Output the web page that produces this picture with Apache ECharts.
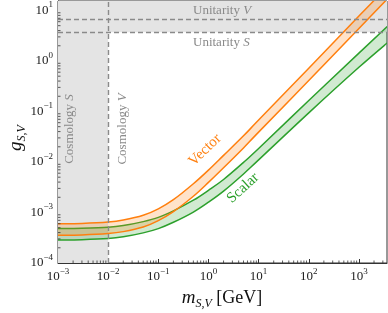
<!DOCTYPE html>
<html><head><meta charset="utf-8">
<script src="https://cdn.jsdelivr.net/npm/echarts@6/dist/echarts.min.js"></script>
<style>html,body{margin:0;padding:0;background:#fff}#c{width:388px;height:313px}</style>
</head><body><div id="c"></div>
<script>
// Mass grid (GeV)
const masses = [1e-3, 3e-3, 1e-2, 2e-2, 5e-2, 1e-1, 2e-1, 5e-1, 1, 2, 5, 10, 100, 1000, 4000];
// Vector band
const vectorUpper = [5.96e-4, 6.08e-4, 6.49e-4, 7.1e-4, 8.8e-4, 1.18e-3, 1.79e-3, 3.7e-3, 6.9e-3, 1.35e-2, 3.3e-2, 6.75e-2, 0.72, 7.75, 32];
const vectorLower = [3.53e-4, 3.6e-4, 3.84e-4, 4.18e-4, 5.15e-4, 6.9e-4, 1.04e-3, 2.1e-3, 3.95e-3, 7.7e-3, 1.9e-2, 3.9e-2, 0.41, 4.4, 18.4];
// Scalar band
const scalarUpper = [4.8e-4, 4.88e-4, 5.1e-4, 5.5e-4, 6.6e-4, 8.0e-4, 1.08e-3, 1.75e-3, 2.75e-3, 4.5e-3, 9.8e-3, 1.85e-2, 0.165, 1.43, 5.2];
const scalarLower = [2.85e-4, 2.9e-4, 3.05e-4, 3.3e-4, 3.95e-4, 4.8e-4, 6.4e-4, 1.02e-3, 1.6e-3, 2.65e-3, 5.8e-3, 1.1e-2, 9.4e-2, 0.75, 2.45];
// Exclusion boundaries
const cosmologyS = 1.3e-3;
const cosmologyV = 1e-2;
const unitarityS = 3.7;
const unitarityV = 6.6;
// Axis ranges
const xRange = [1e-3, 3630];
const yRange = [1e-4, 15.4];

const SERIF = '"Liberation Serif","DejaVu Serif",serif';
const chart = echarts.init(document.getElementById('c'), null, {renderer: 'canvas'});

function pow10Label(v) {
  const e = Math.round(Math.log10(v));
  return '{b|10}{e|' + (e < 0 ? '\u2212' : '') + Math.abs(e) + '}';
}
const labelRich = {
  b: {fontFamily: SERIF, fontSize: 13, color: '#222', lineHeight: 20},
  e: {fontFamily: SERIF, fontSize: 9, color: '#222', lineHeight: 10, verticalAlign: 'top'}
};

// Catmull-Rom spline through pixel points -> SVG path commands
function splineCmds(pts, start) {
  let d = (start ? 'M' : 'L') + pts[0][0] + ' ' + pts[0][1];
  for (let i = 0; i < pts.length - 1; i++) {
    const p0 = pts[i - 1] || pts[i], p1 = pts[i], p2 = pts[i + 1], p3 = pts[i + 2] || pts[i + 1];
    const c1 = [p1[0] + (p2[0] - p0[0]) / 6, p1[1] + (p2[1] - p0[1]) / 6];
    const c2 = [p2[0] - (p3[0] - p1[0]) / 6, p2[1] - (p3[1] - p1[1]) / 6];
    d += ' C' + c1[0] + ' ' + c1[1] + ' ' + c2[0] + ' ' + c2[1] + ' ' + p2[0] + ' ' + p2[1];
  }
  return d;
}

function bandSeries(lower, upper, color, fill, z) {
  return {
    type: 'custom', data: [[masses[0], lower[0]]], z: z, silent: true, clip: true,
    renderItem: function (params, api) {
      const up = masses.map((m, i) => api.coord([m, upper[i]]));
      const lo = masses.map((m, i) => api.coord([m, lower[i]]));
      const fillPath = splineCmds(up, true) + ' ' + splineCmds(lo.slice().reverse(), false) + ' Z';
      return {
        type: 'group',
        children: [
          {type: 'path', shape: {pathData: fillPath}, style: {fill: fill, stroke: null}},
          {type: 'path', shape: {pathData: splineCmds(up, true)}, style: {fill: null, stroke: color, lineWidth: 1.5}},
          {type: 'path', shape: {pathData: splineCmds(lo, true)}, style: {fill: null, stroke: color, lineWidth: 1.5}}
        ]
      };
    }
  };
}

const gray = '#e4e4e4';
const dashColor = '#8a8a8a';
const textGray = '#8a8a8a';

function grayText(a, b) {
  return '{a|' + a + '}{i|' + b + '}';
}
const grayRich = {
  a: {fontFamily: SERIF, fontSize: 13, fill: textGray},
  i: {fontFamily: SERIF, fontSize: 13, fontStyle: 'italic', fill: textGray}
};

const option = {
  animation: false,
  grid: {left: 58, right: 1, top: 1, bottom: 50, show: true, borderColor: '#333', borderWidth: 1, backgroundColor: 'transparent'},
  xAxis: {
    type: 'log', min: xRange[0], max: xRange[1], logBase: 10,
    axisLine: {show: true, lineStyle: {color: '#333', width: 1}},
    axisTick: {show: true, inside: true, length: 4, lineStyle: {color: '#333'}},
    axisLabel: {margin: 4, formatter: pow10Label, rich: labelRich, showMaxLabel: false},
    splitLine: {show: false}
  },
  yAxis: {
    type: 'log', min: yRange[0], max: yRange[1], logBase: 10,
    axisLine: {show: true, lineStyle: {color: '#333', width: 1}},
    axisTick: {show: true, inside: true, length: 4, lineStyle: {color: '#333'}},
    axisLabel: {margin: 5, formatter: pow10Label, rich: labelRich, showMaxLabel: false},
    splitLine: {show: false}
  },
  series: [
    {
      type: 'line', data: [], z: 1, silent: true,
      markArea: {
        silent: true,
        itemStyle: {color: gray},
        data: [
          [{coord: [xRange[0], yRange[0]]}, {coord: [cosmologyV, yRange[1]]}],
          [{coord: [xRange[0], unitarityS]}, {coord: [xRange[1], yRange[1]]}]
        ]
      }
    },
    bandSeries(scalarLower, scalarUpper, '#2ca02c', 'rgba(44,160,44,0.22)', 3),
    bandSeries(vectorLower, vectorUpper, '#ff7f0e', 'rgba(255,127,14,0.22)', 4),
    {
      type: 'line', data: [], z: 5, silent: true,
      markLine: {
        silent: true, symbol: 'none', label: {show: false},
        lineStyle: {color: dashColor, type: [5, 3], width: 1.4},
        data: [{xAxis: cosmologyS}, {xAxis: cosmologyV}, {yAxis: unitarityS}, {yAxis: unitarityV}]
      }
    },
    {
      type: 'custom', data: [[1, 1]], z: 6, silent: true, clip: false,
      renderItem: function (params, api) {
        const children = [];
        for (let k = -4; k <= 4; k++) {
          for (let j = 2; j <= 9; j++) {
            const v = j * Math.pow(10, k);
            if (v > xRange[0] && v < xRange[1]) {
              const p = api.coord([v, yRange[0]]);
              children.push({type: 'line', shape: {x1: p[0], y1: p[1], x2: p[0], y2: p[1] - 2.5}, style: {stroke: '#333', lineWidth: 0.8}});
            }
            if (v > yRange[0] && v < yRange[1]) {
              const p = api.coord([xRange[0], v]);
              children.push({type: 'line', shape: {x1: p[0], y1: p[1], x2: p[0] + 2.5, y2: p[1]}, style: {stroke: '#333', lineWidth: 0.8}});
            }
          }
        }
        return {type: 'group', children: children};
      }
    }
  ],
  graphic: [
    {type: 'text', x: 193, y: 11, z: 100, silent: true, style: {text: grayText('Unitarity ', 'V'), align: 'left', verticalAlign: 'middle', rich: grayRich}},
    {type: 'text', x: 193, y: 43, z: 100, silent: true, style: {text: grayText('Unitarity ', 'S'), align: 'left', verticalAlign: 'middle', rich: grayRich}},
    {type: 'text', x: 70, y: 129, z: 100, rotation: Math.PI / 2, silent: true, style: {text: grayText('Cosmology ', 'S'), align: 'center', verticalAlign: 'middle', rich: grayRich}},
    {type: 'text', x: 123, y: 129, z: 100, rotation: Math.PI / 2, silent: true, style: {text: grayText('Cosmology ', 'V'), align: 'center', verticalAlign: 'middle', rich: grayRich}},
    {type: 'text', x: 205, y: 150, z: 100, rotation: 0.77, silent: true, style: {text: 'Vector', align: 'center', verticalAlign: 'middle',
      fontFamily: SERIF, fontSize: 15, fill: '#ff7f0e'}},
    {type: 'text', x: 243, y: 188, z: 100, rotation: 0.74, silent: true, style: {text: 'Scalar', align: 'center', verticalAlign: 'middle',
      fontFamily: SERIF, fontSize: 15, fill: '#2ca02c'}},
    {type: 'text', x: 222, y: 298, z: 100, silent: true, style: {text: '{m|m}{s|S,V}{t| [GeV]}', align: 'center', verticalAlign: 'middle',
      rich: {m: {fontFamily: SERIF, fontSize: 19, fontStyle: 'italic', fill: '#111', lineHeight: 24},
             s: {fontFamily: SERIF, fontSize: 12, fontStyle: 'italic', fill: '#111', lineHeight: 12, verticalAlign: 'bottom'},
             t: {fontFamily: SERIF, fontSize: 18, fill: '#111', lineHeight: 24}}}},
    {type: 'text', x: 16, y: 138, z: 100, rotation: Math.PI / 2, silent: true, style: {text: '{m|g}{s|S,V}', align: 'center', verticalAlign: 'middle',
      rich: {m: {fontFamily: SERIF, fontSize: 19, fontStyle: 'italic', fill: '#111', lineHeight: 24},
             s: {fontFamily: SERIF, fontSize: 12, fontStyle: 'italic', fill: '#111', lineHeight: 12, verticalAlign: 'bottom'}}}}
  ]
};
chart.setOption(option);
</script>
</body></html>
